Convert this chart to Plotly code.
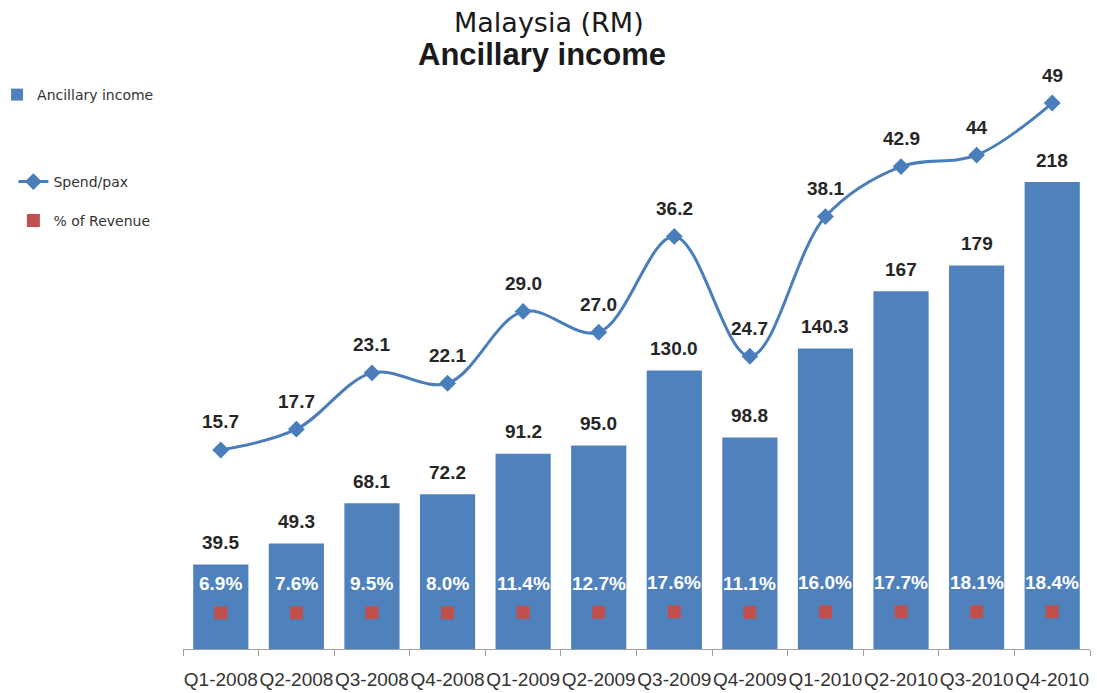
import plotly.graph_objects as go

quarters = ["Q1-2008", "Q2-2008", "Q3-2008", "Q4-2008", "Q1-2009", "Q2-2009",
            "Q3-2009", "Q4-2009", "Q1-2010", "Q2-2010", "Q3-2010", "Q4-2010"]
ancillary = [39.5, 49.3, 68.1, 72.2, 91.2, 95.0, 130.0, 98.8, 140.3, 167, 179, 218]
ancillary_labels = ["39.5", "49.3", "68.1", "72.2", "91.2", "95.0", "130.0", "98.8",
                    "140.3", "167", "179", "218"]
spend_pax = [15.7, 17.7, 23.1, 22.1, 29.0, 27.0, 36.2, 24.7, 38.1, 42.9, 44, 49]
spend_labels = ["15.7", "17.7", "23.1", "22.1", "29.0", "27.0", "36.2", "24.7",
                "38.1", "42.9", "44", "49"]
pct_revenue = [6.9, 7.6, 9.5, 8.0, 11.4, 12.7, 17.6, 11.1, 16.0, 17.7, 18.1, 18.4]

BLUE = "#4F81BD"
LINE = "#4A7EBB"
RED = "#C0504D"
TXT = "#262626"

fig = go.Figure()
fig.add_trace(go.Bar(x=quarters, y=ancillary, name="Ancillary income",
                     marker=dict(color=BLUE, line=dict(width=0)),
                     legend="legend", yaxis="y"))
fig.add_trace(go.Scatter(x=quarters, y=spend_pax, name="Spend/pax", mode="lines+markers",
                         line=dict(color=LINE, width=3, shape="spline", smoothing=1.0),
                         marker=dict(symbol="diamond", size=13, color=LINE),
                         legend="legend2", yaxis="y2"))
fig.add_trace(go.Scatter(x=quarters, y=[p / 100 for p in pct_revenue], name="% of Revenue",
                         mode="markers",
                         marker=dict(symbol="square", size=13, color=RED),
                         legend="legend3", yaxis="y2"))

ann = []
for q, v, t in zip(quarters, ancillary, ancillary_labels):
    ann.append(dict(x=q, y=v, xref="x", yref="y", text=t, showarrow=False, yshift=22,
                    font=dict(family="Liberation Sans", size=19, color=TXT, weight="bold")))
for q, v, t in zip(quarters, spend_pax, spend_labels):
    ann.append(dict(x=q, y=v, xref="x", yref="y2", text=t, showarrow=False, yshift=28,
                    font=dict(family="Liberation Sans", size=19, color=TXT, weight="bold")))
for q, p in zip(quarters, pct_revenue):
    ann.append(dict(x=q, y=p / 100, xref="x", yref="y2", text=f"{p:.1f}%", showarrow=False,
                    yshift=29,
                    font=dict(family="Liberation Sans", size=19, color="white", weight="bold")))

ann.append(dict(x=0.4035, y=(649 - 22) / 559, xref="paper", yref="paper", text="Malaysia (RM)",
                xanchor="center", yanchor="middle",
                showarrow=False, font=dict(family="DejaVu Sans", size=27, color="#1a1a1a")))
ann.append(dict(x=0.396, y=(649 - 55) / 559, xref="paper", yref="paper", text="Ancillary income",
                xanchor="center", yanchor="middle", showarrow=False,
                font=dict(family="Liberation Sans", size=31, color="#1a1a1a", weight="bold")))

legfont = dict(family="DejaVu Sans", size=14, color="#333333")
fig.update_layout(
    width=1097, height=693,
    margin=dict(l=183, r=7, t=90, b=44, autoexpand=False),
    paper_bgcolor="white", plot_bgcolor="white",
    bargap=0.27,
    showlegend=True,
    annotations=ann,
    xaxis=dict(type="category", range=[-0.5, 11.5], showline=True, linecolor="#a0a0a0",
               linewidth=1, ticks="outside", tickson="boundaries", ticklen=6,
               tickcolor="#a0a0a0", tickangle=0, automargin=False,
               tickfont=dict(family="Liberation Sans", size=19, color="#333333"),
               ticklabelstandoff=13, showgrid=False, zeroline=False),
    yaxis=dict(range=[0, 261], visible=False, showgrid=False, zeroline=False),
    yaxis2=dict(range=[-3.40, 50.25], overlaying="y", visible=False, showgrid=False,
                zeroline=False),
    legend=dict(x=-0.205, y=(649 - 95) / 559, xanchor="left", yanchor="middle",
                font=legfont, bgcolor="rgba(0,0,0,0)", itemwidth=30),
    legend2=dict(x=-0.187, y=(649 - 182) / 559, xanchor="left", yanchor="middle",
                 font=legfont, bgcolor="rgba(0,0,0,0)"),
    legend3=dict(x=-0.187, y=(649 - 221) / 559, xanchor="left", yanchor="middle",
                 font=legfont, bgcolor="rgba(0,0,0,0)"),
)

fig.write_html("out.html")
